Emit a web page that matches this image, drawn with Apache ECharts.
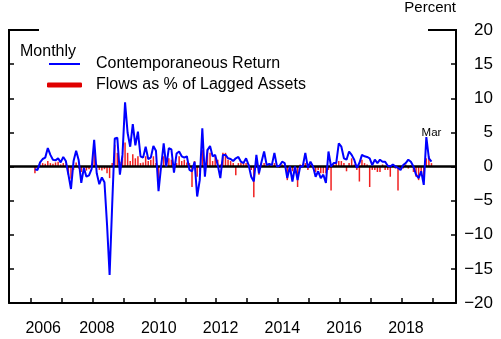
<!DOCTYPE html>
<html><head><meta charset="utf-8">
<script src="https://cdn.jsdelivr.net/npm/echarts@6/dist/echarts.min.js"></script>
<style>html,body{margin:0;padding:0;background:#fff}#c{width:501px;height:339px}</style>
</head><body><div id="c"></div>
<script>
// Monthly data: May 2006 .. Mar 2019
const startYear = 2006, startMonth = 5;
const returns = [
 -0.4,-0.5,0.6,1.1,1.3,2.7,1.7,1.0,0.9,1.2,
 0.6,1.4,0.8,-1.2,-3.3,0.8,2.3,0.9,-2.4,-0.2,
 -1.5,-1.3,-0.4,3.9,-1.0,-2.6,-1.6,-2.3,-8.5,-15.9,
 -5.6,4.1,4.2,-1.2,1.7,9.4,4.9,2.9,6.2,3.1,
 5.1,1.5,1.3,2.9,1.1,1.3,3.0,2.3,-3.6,0.0,
 3.4,0.0,2.7,2.5,-0.9,1.9,2.2,1.5,1.3,1.5,
 -0.5,-0.7,0.7,-4.4,-2.0,5.6,-1.5,2.4,3.0,1.5,
 1.7,0.2,-1.7,1.7,1.7,1.2,1.1,0.8,1.2,1.4,
 0.7,0.5,1.2,0.2,-1.5,-2.2,1.7,-1.0,0.7,2.2,
 0.2,0.4,0.2,2.0,0.0,0.1,0.7,0.5,-1.7,0.0,
 -2.2,0.0,-2.0,0.0,0.0,2.0,-0.2,0.7,0.0,-1.5,
 -0.7,-1.7,-1.2,-2.4,2.2,0.0,0.5,0.5,3.4,2.9,
 1.2,1.0,2.2,1.7,1.0,-0.2,0.5,1.7,1.5,1.4,
 1.2,0.2,1.0,0.5,1.0,0.7,0.7,0.1,0.0,0.3,
 0.0,-0.2,-0.5,0.2,0.5,1.0,0.7,0.0,-1.2,-1.7,
 -0.7,-2.7,4.3,1.2,0.7
];
const flows = [
 -1.0,-0.3,0.3,0.5,0.4,0.8,0.5,0.4,0.6,0.7,
 0.3,0.5,0.3,-1.2,-1.8,-0.5,0.6,-0.3,-0.8,-0.3,
 -0.6,-0.4,0.3,2.2,0.3,-0.5,-0.6,-0.4,-1.0,-1.7,
 0.5,3.2,2.0,0.7,1.5,3.5,2.0,0.8,1.8,1.2,
 1.5,0.5,0.6,1.5,0.8,1.0,1.5,0.5,-1.8,0.0,
 1.5,0.3,1.2,1.0,-0.8,0.5,1.5,0.8,1.0,0.6,
 0.5,-3.0,0.8,-1.5,-0.8,2.4,0.5,2.5,2.0,0.8,
 1.5,1.0,0.3,2.0,2.0,1.0,0.8,0.5,-1.3,0.5,
 0.6,0.5,0.5,0.3,-0.5,-4.5,0.5,-1.2,0.3,0.5,
 0.2,0.3,0.2,0.5,0.2,-0.2,0.3,0.2,-2.0,-0.3,
 -0.7,-1.0,-3.0,0.3,0.2,0.5,-0.5,0.3,-0.3,-0.8,
 -0.5,-1.0,-1.0,-1.0,-0.5,-3.5,0.3,0.5,0.8,0.8,
 0.5,-0.7,0.5,1.2,0.3,-0.5,-2.2,1.0,0.5,0.3,
 -3.0,-0.5,-0.5,-0.8,-0.8,0.3,-0.5,-0.5,-1.5,0.2,
 -0.3,-3.5,-0.3,-0.3,0.3,-0.3,0.2,-0.8,-1.5,-2.0,
 -1.0,-1.8,1.2,1.5,0.5
];
const lastLabel = 'Mar';
const xTickValues = [2006.2,2007.2,2008.2,2009.2,2010.2,2011.2,2012.2,2013.2,2014.2,2015.2,2016.2,2017.2,2018.2,2019.2];
const xLabelValues = [2006.6,2008.34,2010.34,2012.34,2014.34,2016.34,2018.34];
const yMin = -20, yMax = 20, yStep = 5;

// time position of each month (year + fraction)
const xVals = returns.map((_, i) => {
  const m = startMonth - 1 + i;
  return startYear + Math.floor(m / 12) + (m % 12) / 12;
});
const FONT = '"Liberation Sans", Arial, sans-serif';
const xMin = 2005.494, xMax = 2019.96;
const chart = echarts.init(document.getElementById('c'), null, {renderer: 'canvas'});
const lastIdx = returns.length - 1;
chart.setOption({
  animation: false,
  backgroundColor: '#fff',
  textStyle: {fontFamily: FONT},
  title: {text: 'Monthly', left: 20, top: 44, padding: 0,
    textStyle: {fontFamily: FONT, fontSize: 16, fontWeight: 'normal', color: '#000', lineHeight: 16}},
  grid: {left: 9, right: 45, top: 30, bottom: 36},
  legend: [
    {data: ['Contemporaneous Return'], left: 49, top: 56, icon: 'rect', itemWidth: 31, itemHeight: 2,
     padding: 0, textStyle: {fontFamily: FONT, fontSize: 16, color: '#000', padding: [0, 0, 0, 11]}},
    {data: ['Flows as % of Lagged Assets'], left: 47, top: 77, icon: 'roundRect', itemWidth: 35, itemHeight: 5,
     padding: 0, itemStyle: {color: '#e00000'},
     textStyle: {fontFamily: FONT, fontSize: 16, color: '#000', padding: [0, 0, 0, 9]}}
  ],
  xAxis: {
    type: 'value', min: xMin, max: xMax,
    axisLine: {show: true, onZero: false, lineStyle: {color: '#000', width: 2}},
    axisTick: {show: true, inside: true, length: 5, customValues: xTickValues, lineStyle: {color: '#000', width: 1.5}},
    axisLabel: {show: true, customValues: xLabelValues, formatter: v => String(Math.floor(v)),
      margin: 18, fontSize: 16, color: '#000', fontFamily: FONT},
    splitLine: {show: false}
  },
  yAxis: [
    {type: 'value', position: 'right', min: yMin, max: yMax, interval: yStep,
     name: 'Percent', nameLocation: 'end', nameGap: 22,
     nameTextStyle: {align: 'right', verticalAlign: 'middle', fontSize: 15, color: '#000', fontFamily: FONT},
     axisLine: {show: true, onZero: false, lineStyle: {color: '#000', width: 2}},
     axisTick: {show: true, inside: true, length: 5, lineStyle: {color: '#000', width: 1.5}},
     axisLabel: {align: 'right', margin: 37, fontSize: 17, color: '#000', fontFamily: FONT,
       formatter: v => (v < 0 ? '\u2212' + Math.abs(v) : String(v))},
     splitLine: {show: false}},
    {type: 'value', position: 'left', min: yMin, max: yMax, interval: yStep,
     axisLine: {show: true, onZero: false, lineStyle: {color: '#000', width: 2}},
     axisTick: {show: true, inside: true, length: 5, lineStyle: {color: '#000', width: 1.5}},
     axisLabel: {show: false}, splitLine: {show: false}}
  ],
  series: [
    {name: 'Flows as % of Lagged Assets', type: 'bar', yAxisIndex: 0, barWidth: 1.5,
     itemStyle: {color: '#f02020'}, z: 2,
     data: xVals.map((x, i) => [x, flows[i]]),
     markLine: {silent: true, symbol: 'none', z: 5, label: {show: false},
       lineStyle: {color: '#000', width: 2.5, type: 'solid'}, data: [{yAxis: 0}]}},
    {name: 'Contemporaneous Return', type: 'line', yAxisIndex: 0, z: 10,
     symbol: 'none', color: '#0000ff', lineStyle: {color: '#0000ff', width: 2},
     data: xVals.map((x, i) => [x, returns[i]]),
     markPoint: {symbol: 'circle', symbolSize: 1, itemStyle: {color: 'rgba(0,0,0,0)'},
       label: {show: true, position: 'top', distance: 22, formatter: lastLabel, fontSize: 11.5, color: '#000', fontFamily: FONT},
       data: [{coord: [xVals[lastIdx], returns[lastIdx]]}]}}
  ]
});
const p0 = chart.convertToPixel({xAxisIndex: 0, yAxisIndex: 0}, [xMin, yMax]);
const p1 = chart.convertToPixel({xAxisIndex: 0, yAxisIndex: 0}, [xMax, yMax]);
chart.setOption({graphic: [
  {type: 'line', shape: {x1: p0[0] - 1, y1: p0[1], x2: p0[0] + 30, y2: p0[1]}, style: {stroke: '#000', lineWidth: 2}, z: 20},
  {type: 'line', shape: {x1: p1[0] - 28, y1: p1[1], x2: p1[0] + 1, y2: p1[1]}, style: {stroke: '#000', lineWidth: 2}, z: 20}
]});
</script></body></html>
